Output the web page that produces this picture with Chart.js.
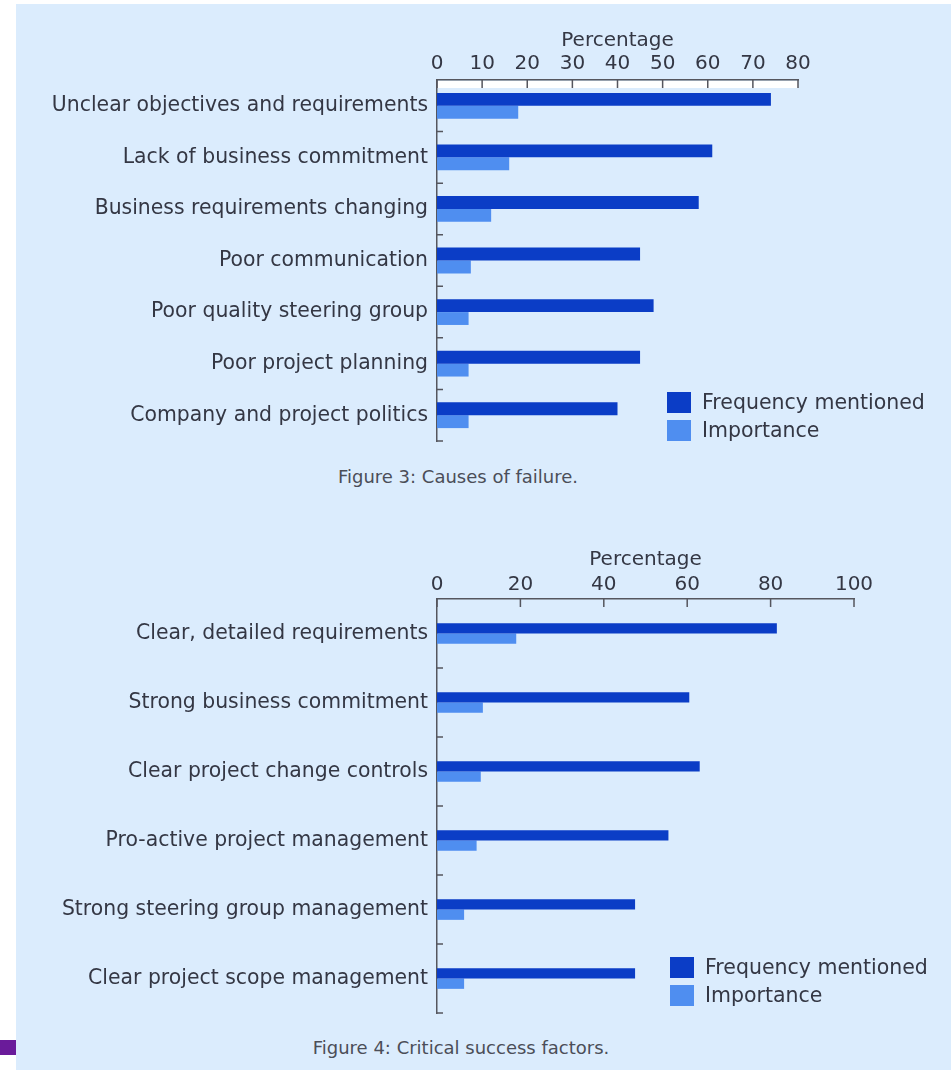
<!DOCTYPE html>
<html>
<head>
<meta charset="utf-8">
<script src="https://cdn.jsdelivr.net/npm/chart.js@4.4.0/dist/chart.umd.min.js"></script>
<style>
body { margin: 0; width: 951px; height: 1070px; position: relative; overflow: hidden; background: #fff; font-family: "DejaVu Sans", sans-serif; }
#panel { position: absolute; left: 16px; top: 4px; width: 935px; height: 1066px; background: #dbecfd; }
#mark { position: absolute; left: 0; top: 1040px; width: 16px; height: 15px; background: #6a1b9a; }
.wrap { position: absolute; left: 16px; width: 935px; }
.caption { position: absolute; left: 0; height: 22px; line-height: 22px; font-size: 18px; color: #4b4e58; text-align: center; }
.key { position: absolute; height: 21px; line-height: 21px; font-size: 20.5px; color: #343744; white-space: nowrap; }
.key span { display: inline-block; width: 24px; height: 21px; vertical-align: top; margin-right: 11px; }
</style>
</head>
<body>
<div id="panel"></div>
<div id="mark"></div>

<div class="wrap" style="top:4px; height:440px"><canvas id="failure" width="935" height="440"></canvas></div>
<div class="caption" style="top:466px; width:916px">Figure 3: Causes of failure.</div>
<div id="failure-legend"></div>

<div class="wrap" style="top:520px; height:496px"><canvas id="success" width="935" height="496"></canvas></div>
<div class="caption" style="top:1037px; width:922px">Figure 4: Critical success factors.</div>
<div id="success-legend"></div>

<script>
// figure 3 - causes of failure
var failureCauses = [
    'Unclear objectives and requirements',
    'Lack of business commitment',
    'Business requirements changing',
    'Poor communication',
    'Poor quality steering group',
    'Poor project planning',
    'Company and project politics'
]
var failureFrequency = [74, 61, 58, 45, 48, 45, 40]
var failureImportance = [18, 16, 12, 7.5, 7, 7, 7]

// figure 4 - critical success factors
var successFactors = [
    'Clear, detailed requirements',
    'Strong business commitment',
    'Clear project change controls',
    'Pro-active project management',
    'Strong steering group management',
    'Clear project scope management'
]
var successFrequency = [81.5, 60.5, 63, 55.5, 47.5, 47.5]
var successImportance = [19, 11, 10.5, 9.5, 6.5, 6.5]

var seriesNames = ['Frequency mentioned', 'Importance']
var seriesColors = ['#0b3dc6', '#4f8ef0']
var axisTitle = 'Percentage'

var textColor = '#343744'
var lineColor = '#55565e'

// little tick marks pointing into the plot, like the printed figure
var axisMarks = {
    id: 'axisMarks',
    beforeDatasetsDraw: function(chart, args, opts) {
        if (!opts.band) return
        var area = chart.chartArea
        chart.ctx.save()
        chart.ctx.fillStyle = opts.band
        chart.ctx.fillRect(area.left + 1, area.top + 1, area.right - area.left - 1, 7)
        chart.ctx.restore()
    },
    afterDatasetsDraw: function(chart) {
        var ctx = chart.ctx
        var area = chart.chartArea
        var x = chart.scales.x
        var y = chart.scales.y
        ctx.save()
        ctx.strokeStyle = lineColor
        ctx.lineWidth = 1.5
        ctx.beginPath()
        for (var i = 0; i < x.ticks.length; i++) {
            var px = x.getPixelForTick(i)
            ctx.moveTo(px, area.top)
            ctx.lineTo(px, area.top + 8)
        }
        var half = (y.getPixelForTick(1) - y.getPixelForTick(0)) / 2
        for (var j = 0; j < y.ticks.length; j++) {
            var py = y.getPixelForTick(j) + half
            ctx.moveTo(area.left, py)
            ctx.lineTo(area.left + 6, py)
        }
        ctx.stroke()
        ctx.restore()
    }
}

function drawFigure(id, labels, freq, imp, max, step, opts) {
    new Chart(document.getElementById(id), {
        type: 'bar',
        data: {
            labels: labels,
            datasets: [
                { label: seriesNames[0], data: freq, backgroundColor: seriesColors[0] },
                { label: seriesNames[1], data: imp, backgroundColor: seriesColors[1] }
            ]
        },
        options: {
            indexAxis: 'y',
            responsive: false,
            animation: false,
            layout: { padding: { left: 0, top: 0, right: opts.right, bottom: 3 } },
            datasets: { bar: { barPercentage: 1, categoryPercentage: opts.cat } },
            plugins: {
                legend: { display: false },
                tooltip: { enabled: false },
                axisMarks: { band: opts.band }
            },
            scales: {
                x: {
                    position: 'top',
                    min: 0,
                    max: max,
                    afterFit: function(s) { s.height = opts.top },
                    ticks: { stepSize: step, color: textColor, padding: opts.tickPad, font: { family: 'DejaVu Sans', size: 20 } },
                    grid: { display: false, drawTicks: false },
                    border: { display: true, color: lineColor, width: 1.5 },
                    title: {
                        display: true,
                        text: axisTitle,
                        color: textColor,
                        padding: { top: opts.titlePad, bottom: 0 },
                        font: { family: 'DejaVu Sans', size: 20 }
                    }
                },
                y: {
                    afterFit: function(s) {
                        s.width = 421
                        s.paddingTop = 0
                        s.paddingBottom = 0
                    },
                    ticks: { color: textColor, padding: 9, font: { family: 'DejaVu Sans', size: 20.4 } },
                    grid: { display: false, drawTicks: false },
                    border: { display: true, color: lineColor, width: 1.5 }
                }
            }
        },
        plugins: [axisMarks]
    })
}

function drawLegend(id, left, top) {
    var html = ''
    for (var i = 0; i < seriesNames.length; i++) {
        html += '<div class="key" style="left:' + left + 'px; top:' + (top + i * 28) + 'px">' +
            '<span style="background:' + seriesColors[i] + '"></span>' + seriesNames[i] + '</div>'
    }
    document.getElementById(id).innerHTML = html
}

drawFigure('failure', failureCauses, failureFrequency, failureImportance, 80, 10,
    { right: 153, top: 76, titlePad: 25, tickPad: 4, cat: 0.5, band: '#ffffff' })
drawFigure('success', successFactors, successFrequency, successImportance, 100, 20,
    { right: 97, top: 79, titlePad: 28, tickPad: 2, cat: 0.3, band: null })

drawLegend('failure-legend', 667, 392)
drawLegend('success-legend', 670, 957)
</script>
</body>
</html>
